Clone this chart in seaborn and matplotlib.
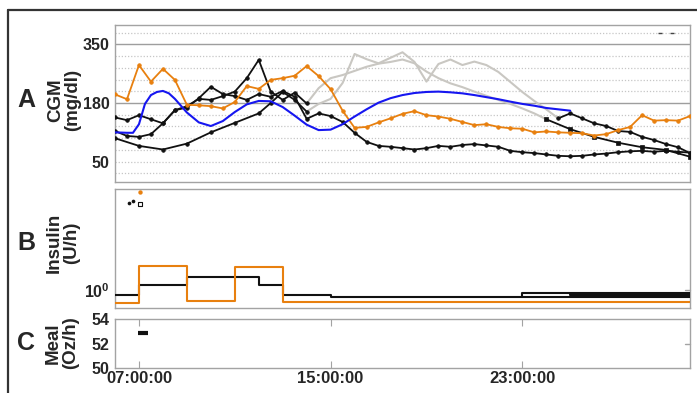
import numpy as np
import pandas as pd
import matplotlib
matplotlib.use("Agg")
import matplotlib.pyplot as plt
import seaborn as sns
from matplotlib.lines import Line2D

sns.set_style("white")
plt.rcParams["font.family"] = ["Liberation Sans", "DejaVu Sans"]
plt.rcParams["font.weight"] = "bold"
plt.rcParams["mathtext.fontset"] = "custom"
plt.rcParams["mathtext.rm"] = "Liberation Sans:bold"
plt.rcParams["mathtext.bf"] = "Liberation Sans:bold"

# ---------------- time grid (hours since midnight of day 1) ----------------
half_hour = np.arange(6.0, 30.01, 0.5)

# ---------------- CGM (mg/dl) ----------------
cgm_orange = [205, 191, 290, 242, 279, 247, 176, 175, 173, 168, 183, 229, 221,
              247, 252, 259, 287, 258, 220, 163, 125, 127, 137, 146, 156, 162,
              153, 150, 145, 138, 131, 133, 127, 124, 123, 115, 117, 115, 114,
              113, 108, 111, 120, 127, 153, 141, 142, 141, 151]

blue_t = [6.0, 6.5, 6.75, 7.0, 7.25, 7.5, 7.75, 8.0, 8.25, 8.5, 9.0, 9.5, 10.0,
          10.5, 11.0, 11.5, 12.0, 12.5, 13.0, 13.5, 14.0, 14.5, 15.0, 15.5,
          16.0, 16.5, 17.0, 17.5, 18.0, 18.5, 19.0, 19.5, 20.0, 20.5, 21.0,
          21.5, 22.0, 22.5, 23.0, 23.5, 24.0, 24.5, 25.0]
blue_v = [115, 114, 114, 133, 178, 203, 212, 215, 208, 192, 159, 137, 129,
          140, 160, 177, 186, 185, 171, 152, 132, 120, 121, 133, 150, 166,
          181, 194, 203, 209, 212, 213, 211, 208, 203, 197, 191, 184, 178,
          174, 169, 166, 163]

k1_v = [148, 142, 153, 144, 135, 164, 170, 194, 227, 206, 200, 189, 206, 198,
        215, 198, 145, 157, 151, 138, 114, 94, 85, 83, 80, 77, 80, 85, 83, 87,
        89, 86, 83, 74, 71, 69, 66, 63, 62, 63, 66, 68, 71, 73, 74, 72, 74,
        72, 70]

k2_t = [6.0, 6.5, 7.0, 7.5, 8.0, 8.5, 9.0, 9.5, 10.0, 10.5, 11.0, 11.5, 12.0,
        12.5, 13.0, 13.5, 14.0]
k2_v = [118, 107, 105, 111, 135, 164, 173, 192, 189, 200, 213, 252, 305, 213,
        189, 210, 179]

k3_t = [6.0, 7.0, 8.0, 9.0, 10.0, 11.0, 12.0, 12.5, 13.0, 13.5, 14.0]
k3_v = [102, 85, 77, 90, 115, 136, 157, 180, 212, 189, 161]

gray1_t = [14.0, 14.5, 15.0, 15.5, 16.0, 16.5, 17.0, 17.5, 18.0, 18.5, 19.0,
           19.5, 20.0, 20.5, 21.0, 21.5, 22.0, 22.5, 23.0, 23.5, 24.0, 24.5]
gray1_v = [161, 178, 192, 238, 322, 307, 295, 311, 327, 299, 242, 293, 306,
           290, 300, 290, 270, 241, 212, 186, 166, 146]
gray2_t = [14.0, 14.5, 15.0, 15.5, 16.0, 16.5, 17.0, 17.5, 18.0, 18.5, 19.0,
           19.5, 20.0, 20.5, 21.0, 21.5, 22.0, 22.5, 23.0, 23.5, 24.0]
gray2_v = [179, 223, 252, 261, 273, 285, 294, 299, 306, 295, 271, 252, 237,
           226, 213, 201, 189, 178, 168, 157, 144]

k4_t = [24.0, 25.0, 26.0, 27.0, 28.0, 29.0, 30.0]
k4_v = [144, 122, 105, 92, 82, 76, 61]
k5_t = [24.5, 25.0, 25.5, 26.0, 26.5, 27.0, 27.5, 28.0, 28.5, 29.0, 29.5, 30.0]
k5_v = [146, 157, 146, 135, 129, 118, 116, 105, 98, 89, 82, 69]

stray_t = [28.75, 29.25]
stray_v = [384, 384]

# ---------------- Insulin (U/h) ----------------
ins_orange_t = [6.0, 7.0, 9.0, 11.0, 13.0, 30.0]
ins_orange_v = [0.69, 1.98, 0.73, 1.96, 0.70, 0.70]
ins_black1_t = [6.0, 7.0, 9.0, 12.0, 13.0, 15.0, 23.0, 30.0]
ins_black1_v = [0.87, 1.15, 1.45, 1.15, 0.87, 0.82, 0.92, 0.92]
ins_black2_t = [23.0, 30.0]
ins_black2_v = [0.82, 0.82]
ins_black3_t = [25.0, 30.0]
ins_black3_v = [0.865, 0.865]
ins_black4_t = [25.0, 30.0]
ins_black4_v = [0.895, 0.895]

bolus_orange_t, bolus_orange_v = [7.05], [16.6]
bolus_black_t, bolus_black_v = [6.6, 6.75], [12.3, 12.9]
bolus_open_t, bolus_open_v = [7.05], [11.9]

# ---------------- Meal (Oz/h) ----------------
meal_t = [7.15]
meal_v = [52.85]

x_ticks = [7, 15, 23]
x_labels = ["07:00:00", "15:00:00", "23:00:00"]

ORANGE = "#e8800f"
BLUE = "#1616f0"
BLACK = "#111111"
GRAY = "#c9c7c2"
SPINE = "#a3a3a3"


def cgm_fwd(v):
    v = np.asarray(v, dtype=float)
    return np.where(v <= 180, (v - 50) / 130.0, 1 + (v - 180) / 170.0)


def cgm_inv(p):
    p = np.asarray(p, dtype=float)
    return np.where(p <= 1, 50 + 130.0 * p, 180 + 170.0 * (p - 1))


W, H = 697, 393
fig = plt.figure(figsize=(W / 100, H / 100), dpi=100)


def px_axes(l, t, r, b):
    return fig.add_axes([l / W, 1 - b / H, (r - l) / W, (b - t) / H])


axA = px_axes(115, 25, 690, 182)
axB = px_axes(115, 189, 690, 308)
axC = px_axes(115, 319, 690, 368)

for ax in (axA, axB, axC):
    ax.set_xlim(6, 30)
    for s in ax.spines.values():
        s.set_color(SPINE)
        s.set_linewidth(1.0)
    ax.tick_params(axis="y", which="major", direction="out", length=3,
                   color=SPINE, labelsize=11.5, pad=1)
    ax.tick_params(axis="x", which="both", bottom=False, top=False,
                   labelbottom=False)


def line(ax, x, y, color, marker=None, lw=1.3, ms=2.6, z=2, **kw):
    sns.lineplot(x=x, y=y, ax=ax, color=color, lw=lw, marker=marker,
                 markersize=ms, markeredgecolor=color, markeredgewidth=0.5,
                 estimator=None, sort=False, legend=False, zorder=z, **kw)


# ---------------- Panel A ----------------
axA.set_yscale("function", functions=(cgm_fwd, cgm_inv))
axA.set_ylim(5, 406)
for g in [24, 50, 76, 102, 128, 154, 214, 248, 282, 316, 384]:
    axA.axhline(g, color="#c6c6c6", lw=0.9, ls=(0, (1, 1.5)), zorder=0)
for g in [180, 350]:
    axA.axhline(g, color="#9e9e9e", lw=1.0, zorder=0)
axA.set_yticks([50, 180, 350])
axA.set_yticklabels(["50", "180", "350"])
axA.yaxis.set_minor_locator(matplotlib.ticker.NullLocator())

line(axA, gray1_t, gray1_v, GRAY, lw=1.5, z=2)
line(axA, gray2_t, gray2_v, GRAY, lw=1.5, z=2)
line(axA, half_hour, k1_v, BLACK, marker="o", z=3)
line(axA, k2_t, k2_v, BLACK, marker="o", z=3)
line(axA, k3_t, k3_v, BLACK, marker="o", z=3)
line(axA, k4_t, k4_v, BLACK, marker="s", ms=2.4, z=3)
line(axA, k5_t, k5_v, BLACK, marker="o", z=3)
line(axA, half_hour, cgm_orange, ORANGE, marker="o", ms=2.6, z=4)
line(axA, blue_t, blue_v, BLUE, lw=1.5, z=5)
sns.scatterplot(x=stray_t, y=stray_v, ax=axA, color="#444444", marker="_",
                s=8, linewidth=1.0, legend=False, zorder=3)

# ---------------- Panel B ----------------
axB.set_yscale("log")
axB.set_ylim(0.596, 18.3)
axB.set_yticks([1])
axB.set_yticklabels([r"$\mathbf{10^{0}}$"])
axB.yaxis.set_minor_locator(matplotlib.ticker.NullLocator())
for t, v in [(ins_black4_t, ins_black4_v), (ins_black3_t, ins_black3_v),
             (ins_black2_t, ins_black2_v), (ins_black1_t, ins_black1_v)]:
    line(axB, t, v, BLACK, lw=1.5, z=3, drawstyle="steps-post")
line(axB, ins_orange_t, ins_orange_v, ORANGE, lw=1.5, z=4,
     drawstyle="steps-post")
sns.scatterplot(x=bolus_orange_t, y=bolus_orange_v, ax=axB, color=ORANGE,
                s=10, linewidth=0, legend=False, zorder=5)
sns.scatterplot(x=bolus_black_t, y=bolus_black_v, ax=axB, color=BLACK,
                s=7, linewidth=0, legend=False, zorder=5)
sns.scatterplot(x=bolus_open_t, y=bolus_open_v, ax=axB, marker="s",
                facecolor="white", edgecolor=BLACK, s=7, linewidth=0.8,
                legend=False, zorder=5)
axB.plot([1 - 0.009, 1], [1, 1], transform=axB.get_yaxis_transform(),
         color=SPINE, lw=1, clip_on=False)

# ---------------- Panel C ----------------
axC.set_ylim(50, 54)
axC.set_yticks([50, 52, 54])
axC.set_yticklabels(["50", "52", "54"])
axC.plot([1 - 0.009, 1], [52, 52], transform=axC.get_yaxis_transform(),
         color=SPINE, lw=1, clip_on=False)
axC.set_xticks(x_ticks)
axC.set_xticklabels(x_labels)
axC.tick_params(axis="x", which="major", bottom=True, top=True,
                direction="in", length=5, color=SPINE, labelbottom=True,
                labelsize=12, pad=2)
sns.scatterplot(x=meal_t, y=meal_v, ax=axC, marker="_", s=55, linewidth=3.0,
                color=BLACK, legend=False, zorder=5)

# ---------------- panel letters and axis titles ----------------
def ftxt(x, y, s, **kw):
    fig.text(x / W, 1 - y / H, s, ha="center", va="center",
             fontweight="bold", **kw)


ftxt(26, 100, "A", fontsize=18)
ftxt(26, 243, "B", fontsize=18)
ftxt(26, 343, "C", fontsize=18)
ftxt(64, 100, "CGM\n(mg/dl)", fontsize=13.5, rotation=90,
     multialignment="center", linespacing=1.0)
ftxt(63, 243, "Insulin\n(U/h)", fontsize=13.5, rotation=90,
     multialignment="center", linespacing=1.0)
ftxt(62, 343, "Meal\n(Oz/h)", fontsize=13.5, rotation=90,
     multialignment="center", linespacing=1.0)

# outer frame (top and left edges)
fig.add_artist(Line2D([8 / W, 1], [1 - 10 / H, 1 - 10 / H],
                      transform=fig.transFigure, color="#333333", lw=1.6))
fig.add_artist(Line2D([8 / W, 8 / W], [0, 1 - 10 / H],
                      transform=fig.transFigure, color="#333333", lw=1.6))

fig.savefig("out.png", dpi=100, facecolor="white")
